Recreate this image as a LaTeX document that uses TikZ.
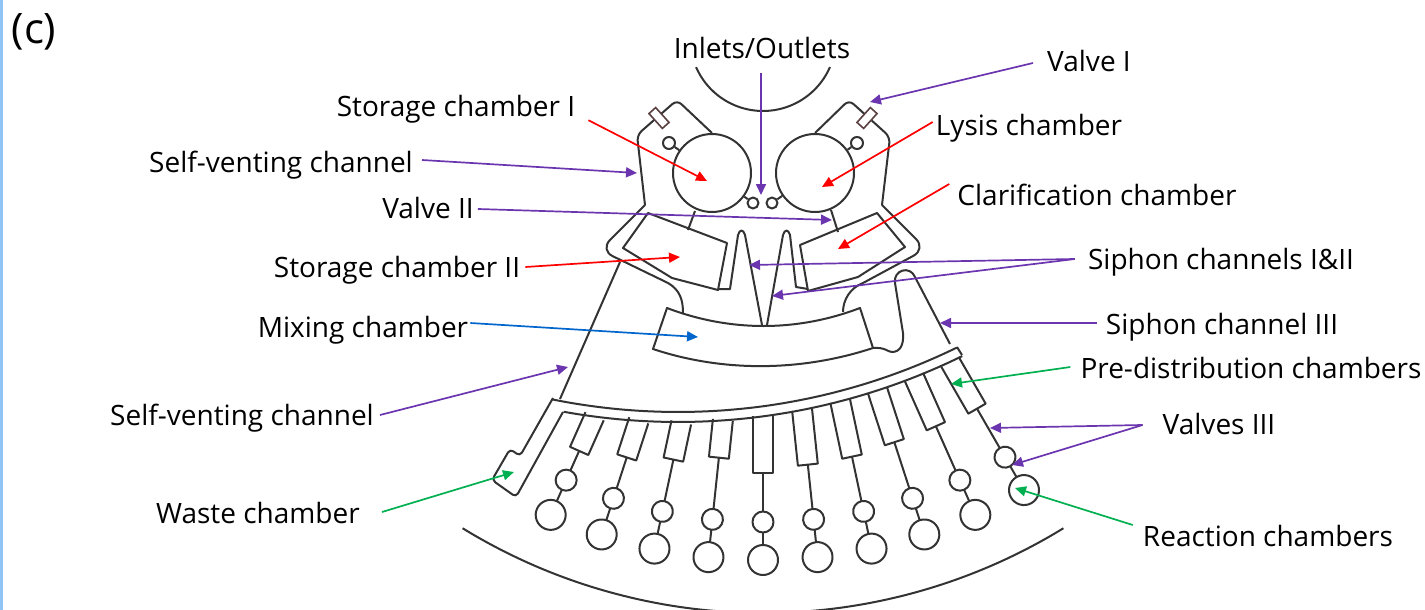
\documentclass[tikz,border=0pt]{standalone}
\usepackage{fontspec}
\setmainfont{Open Sans}
\usetikzlibrary{arrows.meta}
\definecolor{arrowpurple}{HTML}{5B1FA6}
\definecolor{arrowred}{HTML}{FF0000}
\definecolor{arrowblue}{HTML}{0066CC}
\definecolor{arrowgreen}{HTML}{00B050}
\definecolor{chipgrey}{HTML}{333333}
\definecolor{boxbrown}{HTML}{5A4040}
\definecolor{pageblue}{HTML}{90C4F5}
\begin{document}
\begin{tikzpicture}[
    x=1pt, y=-1pt,
    chip/.style={draw=chipgrey, line width=2pt, line join=round},
    port/.style={chip, fill=white},
    valvebox/.style={draw=boxbrown, line width=1.6pt, fill=white, minimum width=20pt, minimum height=9pt, inner sep=0pt},
    lbl/.style={font=\fontsize{28}{33}\selectfont, text=black, inner sep=2pt, text height=21pt, text depth=1pt},
    arrow/.style={-{Triangle[length=11pt, width=10pt]}, line width=1.7pt},
    purplearrow/.style={arrow, draw=arrowpurple!90, fill=arrowpurple},
    redarrow/.style={arrow, draw=arrowred},
    bluearrow/.style={arrow, draw=arrowblue},
    greenarrow/.style={arrow, draw=arrowgreen}
  ]
    \useasboundingbox (0,0) rectangle (1425,610);
    \fill[pageblue] (0,0) rectangle (3,610);

    % Radial arcs
    \draw[chip, shift={(763,38)}] plot[smooth, domain=23.5:156.5, samples=40] (\x:73);
    \draw[chip, shift={(763,38)}] plot[smooth, domain=58.5:121.5, samples=60] (\x:575);

    % Upper chambers
    \draw[chip, rounded corners=6pt] (712,133) -- (677,100) -- (637,135) [rounded corners=0.5pt] -- (645,205) [rounded corners=14pt] -- (600,250) [rounded corners=0pt] -- (668,283) .. controls (680,290) and (683,300) .. (683,313);
    \draw[chip, rounded corners=6pt] (815,133) -- (849,100) -- (890,137) [rounded corners=0.5pt] -- (882,205) [rounded corners=14pt] -- (926,249) [rounded corners=0pt] -- (863,283) .. controls (850,288) and (843,300) .. (843,312);
    \node[port, circle, minimum size=78pt, inner sep=0pt] (storI) at (712,173) {};
    \node[port, circle, minimum size=78pt, inner sep=0pt] (lysis) at (815,173) {};
    \node[port, circle, minimum size=12pt, inner sep=0pt] (ventL) at (669,143) {};
    \node[port, circle, minimum size=12pt, inner sep=0pt] (ventR) at (857,143) {};
    \node[port, circle, minimum size=11pt, inner sep=0pt] (inL) at (753,203) {};
    \node[port, circle, minimum size=11pt, inner sep=0pt] (inR) at (772,203) {};
    \draw[chip] (ventL) -- (storI);
    \draw[chip] (ventR) -- (lysis);
    \draw[chip] (inL) -- (storI);
    \draw[chip] (inR) -- (lysis);
    \node[valvebox, rotate=-48] (valveL) at (659,118) {};
    \node[valvebox, rotate=48] (valveR) at (867,118) {};

    % Storage and clarification chambers, siphons
    \draw[chip] (648,213) -- (623,248) -- (672,278) -- (718,290) -- (727,243) -- cycle;
    \draw[chip] (695,211) -- (688,230);
    \draw[chip] (718,289) -- (730,289) -- (738,235) .. controls (740,229) and (743,229) .. (745,235) -- (762,325);
    \draw[chip] (767,325) -- (783,235) .. controls (785,229) and (788,229) .. (790,235) -- (796,287) -- (808,289);
    \draw[chip] (877,213) -- (905,247) -- (858,277) -- (808,291) -- (800,245) -- cycle;
    \draw[chip] (831,210) -- (838,232);

    % Mixing chamber
    \draw[chip] (667,308) .. controls (730,332) and (797,332) .. (860,308) -- (873,348) .. controls (800,372) and (722,372) .. (653,349) -- cycle;
    \draw[chip] (873,348) .. controls (885,347) and (888,352) .. (892,352) .. controls (900,352) and (904,345) .. (903,333) -- (895,283) .. controls (893,270) and (910,265) .. (915,277) -- (950,344);

    % Distribution channel
    \draw[chip] (560,399) -- (620,262);
    \draw[chip, shift={(678,-224)}] plot[smooth, domain=64:101.4, samples=30] (\x:636);
    \draw[chip, shift={(678,-224)}] plot[smooth, domain=63.9:100.2, samples=30] (\x:646);
    \draw[chip] (957,347) -- (962,355);
    \draw[chip, rounded corners=4pt] (553,398) -- (520,456) -- (510,449) -- (492,480) -- (516,497) -- (563,412);

    % Branches
    \begin{scope}[shift={(763,38)}]
      \foreach \ang/\rtop/\rbot in {-24/414/452, -18/402/441, -12/393/431, -6/384/422, 0/378/435, 6/374/429, 12/371/428, 18/370/425, 24/371/425, 30/374/428}{
        \begin{scope}[rotate=\ang]
          \draw[chip] (-10,\rtop) -- (-10,\rbot) -- (10,\rbot) -- (10,\rtop);
          \draw[chip] (0,\rbot) -- (0,510);
          \draw[port] (0,484) circle[radius=10.5];
          \draw[port] (0,522) circle[radius=15];
        \end{scope}
      }
    \end{scope}

    % Labels
    \node[lbl, font=\fontsize{42}{48}\selectfont, text height=30pt, text depth=10pt] (tagc) at (34,34) {(c)};
    \node[lbl] (inlets) at (762,49) {Inlets/Outlets};
    \node[lbl] (valveI) at (1089,62) {Valve I};
    \node[lbl] (storIlab) at (456,107) {Storage chamber I};
    \node[lbl] (lysislab) at (1029,125) {Lysis chamber};
    \node[lbl] (ventA) at (281,162) {Self-venting channel};
    \node[lbl] (clarify) at (1097,195) {Clarification chamber};
    \node[lbl] (valveII) at (428,208) {Valve II};
    \node[lbl] (siphonAB) at (1221,259) {Siphon channels I\&II};
    \node[lbl] (storII) at (397,267) {Storage chamber II};
    \node[lbl] (siphonC) at (1222,324) {Siphon channel III};
    \node[lbl] (mixing) at (363,327) {Mixing chamber};
    \node[lbl] (predist) at (1251,368) {Pre-distribution chambers};
    \node[lbl] (ventB) at (242,415) {Self-venting channel};
    \node[lbl] (valvesIII) at (1219,424) {Valves III};
    \node[lbl] (waste) at (258,513) {Waste chamber};
    \node[lbl] (reaction) at (1268,536) {Reaction chambers};

    % Arrow ends
    \coordinate (pInlets) at (761,195);
    \coordinate (pValveI) at (870,102);
    \coordinate (pStorI) at (707,181);
    \coordinate (pLysis) at (822,187);
    \coordinate (pVentA) at (637,173);
    \coordinate (pValveII) at (832,220);
    \coordinate (pClarify) at (838,249);
    \coordinate (pStorII) at (680,257);
    \coordinate (pSiphonA) at (749,265);
    \coordinate (pSiphonB) at (772,296);
    \coordinate (pSiphonC) at (940,323);
    \coordinate (pMixing) at (698,337);
    \coordinate (pVentB) at (568,367);
    \coordinate (pPredist) at (951,384);
    \coordinate (pValveA) at (990,428);
    \coordinate (pValveB) at (1012,465);
    \coordinate (pReaction) at (1015,488);
    \coordinate (pWaste) at (514,472);

    % Arrows
    \draw[purplearrow] (inlets.south) ++(-1,11) -- (pInlets);
    \draw[purplearrow] (valveI.west) ++(-12,1) -- (pValveI);
    \draw[redarrow] (storIlab.south east) ++(11,0) -- (pStorI);
    \draw[redarrow] (lysislab.west) ++(-1,-3) -- (pLysis);
    \draw[purplearrow] (ventA.east) ++(7,-2) -- (pVentA);
    \draw[purplearrow] (valveII.east) ++(2,1) -- (pValveII);
    \draw[redarrow] (clarify.west) ++(-6,-11) -- (pClarify);
    \draw[redarrow] (storII.east) ++(3,0) -- (pStorII);
    \draw[purplearrow] (siphonAB.west) ++(-11,0) -- (pSiphonA);
    \draw[purplearrow] (siphonAB.west) ++(-11,0) -- (pSiphonB);
    \draw[purplearrow] (siphonC.west) ++(-7,-1) -- (pSiphonC);
    \draw[bluearrow] (mixing.east) ++(0,-4) -- (pMixing);
    \draw[purplearrow] (ventB.east) ++(4,0) -- (pVentB);
    \draw[greenarrow] (predist.west) ++(-8,-1) -- (pPredist);
    \draw[purplearrow] (valvesIII.west) ++(-18,1) -- (pValveA);
    \draw[purplearrow] (valvesIII.west) ++(-18,1) -- (pValveB);
    \draw[greenarrow] (reaction.west) ++(-8,-11) -- (pReaction);
    \draw[greenarrow] (waste.east) ++(20,-1) -- (pWaste);
  \end{tikzpicture}
\end{document}
